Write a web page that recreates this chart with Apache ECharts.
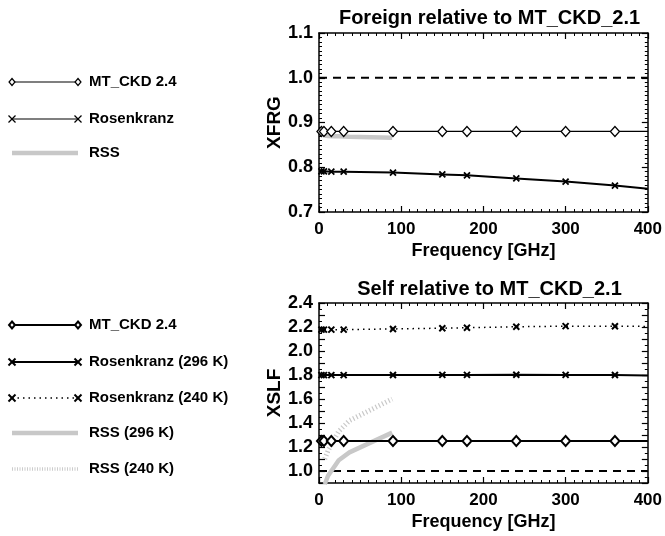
<!DOCTYPE html>
<html>
<head>
<meta charset="utf-8">
<script src="https://cdn.jsdelivr.net/npm/echarts@6/dist/echarts.min.js"></script>
<style>
html,body{margin:0;padding:0;background:#fff;}
#c{width:665px;height:536px;}
</style>
</head>
<body>
<div id="c"></div>
<script>
// ---- data ----
const freq = [0, 3, 6, 15, 30, 90, 150, 180, 240, 300, 360, 400];
const frgMtckd = [0.88, 0.88, 0.88, 0.88, 0.88, 0.88, 0.88, 0.88, 0.88, 0.88, 0.88, 0.88];
const frgRosen = [0.791, 0.791, 0.791, 0.790, 0.790, 0.788, 0.784, 0.782, 0.775, 0.768, 0.759, 0.752];
const rssFreq = [7, 11, 19, 24, 37, 89];
const frgRss = [0.871, 0.870, 0.869, 0.869, 0.868, 0.866];
const slfMtckd = [1.25, 1.25, 1.25, 1.25, 1.25, 1.25, 1.25, 1.25, 1.25, 1.25, 1.25, 1.25];
const slfRosen296 = [1.799, 1.799, 1.799, 1.799, 1.799, 1.800, 1.801, 1.801, 1.802, 1.801, 1.800, 1.795];
const slfRosen240 = [2.178, 2.178, 2.178, 2.178, 2.178, 2.184, 2.190, 2.194, 2.202, 2.207, 2.206, 2.205];
const slfRss296 = [0.89, 0.96, 1.04, 1.09, 1.155, 1.32];
const slfRss240 = [1.10, 1.17, 1.27, 1.33, 1.42, 1.60];
const refX = [0, 400];
const refY = [1.0, 1.0];
const titles = ['Foreign relative to MT_CKD_2.1', 'Self relative to MT_CKD_2.1'];
const yNames = ['XFRG', 'XSLF'];
const xName = 'Frequency [GHz]';
const legendTop = ['MT_CKD 2.4', 'Rosenkranz', 'RSS'];
const legendBottom = ['MT_CKD 2.4', 'Rosenkranz (296 K)', 'Rosenkranz (240 K)', 'RSS (296 K)', 'RSS (240 K)'];

const FONT = '"Liberation Sans", Arial, Helvetica, sans-serif';
const zip = (xs, ys) => xs.map((x, i) => [x, ys[i]]);
const XPATH = 'path://M0 0L10 10M10 0L0 10';
const lastIdx = freq.length - 1;
const markerFn = (sym) => (v, p) => (p.dataIndex === 0 || p.dataIndex === lastIdx) ? 'none' : sym;

const gridsPos = [
  {left: 319, top: 33, width: 331, height: 179},
  {left: 319, top: 303, width: 331, height: 180}
];

function xAxes(gi) {
  const base = {
    type: 'value', gridIndex: gi, min: 0, max: 400, interval: 100,
    axisLine: {show: true, onZero: false, lineStyle: {color: '#000', width: 1.5}},
    axisTick: {show: true, inside: true, length: 6, lineStyle: {color: '#000', width: 1.2}},
    minorTick: {show: true, splitNumber: 10, length: 3, lineStyle: {color: '#000', width: 1}},
    splitLine: {show: false}, minorSplitLine: {show: false}
  };
  return [
    Object.assign({}, base, {
      position: 'bottom',
      axisLabel: {show: true, margin: 9, color: '#000', fontFamily: FONT, fontWeight: 'bold', fontSize: 17},
      name: xName, nameLocation: 'middle', nameGap: 30,
      nameTextStyle: {color: '#000', fontFamily: FONT, fontWeight: 'bold', fontSize: 18}
    }),
    Object.assign({}, base, {position: 'top', axisLabel: {show: false}})
  ];
}

function yAxes(gi, min, max, interval, minorSplit, fmt) {
  const base = {
    type: 'value', gridIndex: gi, min: min, max: max, interval: interval,
    axisLine: {show: true, onZero: false, lineStyle: {color: '#000', width: 1.5}},
    axisTick: {show: true, inside: true, length: 6, lineStyle: {color: '#000', width: 1.2}},
    minorTick: {show: true, splitNumber: minorSplit, length: 3, lineStyle: {color: '#000', width: 1}},
    splitLine: {show: false}, minorSplitLine: {show: false}
  };
  return [
    Object.assign({}, base, {
      position: 'left',
      axisLabel: {show: true, margin: 6, color: '#000', fontFamily: FONT, fontWeight: 'bold', fontSize: 18, formatter: fmt},
      name: yNames[gi], nameLocation: 'middle', nameGap: 35, nameRotate: 90,
      nameTextStyle: {color: '#000', fontFamily: FONT, fontWeight: 'bold', fontSize: 19}
    }),
    Object.assign({}, base, {position: 'right', axisLabel: {show: false}})
  ];
}

const fmtTop = v => v.toFixed(1);
const fmtBottom = v => (Math.round(v * 10) % 2 === 0) ? v.toFixed(1) : '';

const series = [
  // ---- top panel ----
  {type: 'line', xAxisIndex: 0, yAxisIndex: 0, data: zip(refX, refY), symbol: 'none', z: 2,
   lineStyle: {color: '#000', width: 2, type: [8, 6]}},
  {type: 'line', xAxisIndex: 0, yAxisIndex: 0, data: zip(rssFreq, frgRss), symbol: 'none', z: 3,
   lineStyle: {color: '#c8c8c8', width: 4.5}},
  {type: 'line', xAxisIndex: 0, yAxisIndex: 0, data: zip(freq, frgMtckd), z: 4,
   symbol: markerFn('diamond'), symbolSize: [9, 10],
   lineStyle: {color: '#000', width: 1.2}, itemStyle: {color: '#fff', borderColor: '#000', borderWidth: 1.3}},
  {type: 'line', xAxisIndex: 0, yAxisIndex: 0, data: zip(freq, frgRosen), z: 4,
   symbol: markerFn(XPATH), symbolSize: 6,
   lineStyle: {color: '#000', width: 2}, itemStyle: {color: '#000', borderColor: '#000', borderWidth: 1.8}},
  // ---- bottom panel ----
  {type: 'line', xAxisIndex: 2, yAxisIndex: 2, data: zip(refX, refY), symbol: 'none', z: 2,
   lineStyle: {color: '#000', width: 2, type: [8, 6]}},
  {type: 'line', xAxisIndex: 2, yAxisIndex: 2, data: zip(rssFreq, slfRss296), symbol: 'none', z: 3,
   lineStyle: {color: '#c8c8c8', width: 4.5}},
  {type: 'line', xAxisIndex: 2, yAxisIndex: 2, data: zip(rssFreq, slfRss240), symbol: 'none', z: 3,
   lineStyle: {color: '#c8c8c8', width: 5, type: [1.2, 2.4]}},
  {type: 'line', xAxisIndex: 2, yAxisIndex: 2, data: zip(freq, slfMtckd), z: 4,
   symbol: markerFn('diamond'), symbolSize: [9, 10],
   lineStyle: {color: '#000', width: 2}, itemStyle: {color: '#fff', borderColor: '#000', borderWidth: 2}},
  {type: 'line', xAxisIndex: 2, yAxisIndex: 2, data: zip(freq, slfRosen296), z: 4,
   symbol: markerFn(XPATH), symbolSize: 6,
   lineStyle: {color: '#000', width: 2}, itemStyle: {color: '#000', borderColor: '#000', borderWidth: 2}},
  {type: 'line', xAxisIndex: 2, yAxisIndex: 2, data: zip(freq, slfRosen240), z: 4,
   symbol: markerFn(XPATH), symbolSize: 6,
   lineStyle: {color: '#000', width: 1.5, type: [1.5, 4]}, itemStyle: {color: '#000', borderColor: '#000', borderWidth: 2}}
];

// ---- legend drawn as graphic decoration ----
function diamond(x, y, s, lw) {
  return {type: 'polygon', shape: {points: [[x, y - s], [x + s * 0.85, y], [x, y + s], [x - s * 0.85, y]]},
          style: {fill: '#fff', stroke: '#000', lineWidth: lw}, z: 10};
}
function cross(x, y, s, lw) {
  return [
    {type: 'line', shape: {x1: x - s, y1: y - s, x2: x + s, y2: y + s}, style: {stroke: '#000', lineWidth: lw}, z: 10},
    {type: 'line', shape: {x1: x - s, y1: y + s, x2: x + s, y2: y - s}, style: {stroke: '#000', lineWidth: lw}, z: 10}
  ];
}
function legendItem(y, text, kind) {
  const x1 = 12, x2 = 78;
  const els = [];
  let ls;
  if (kind.line === 'gray') ls = {stroke: '#c8c8c8', lineWidth: 4.5};
  else if (kind.line === 'grayDot') ls = {stroke: '#cccccc', lineWidth: 3.5, lineDash: [1, 1.5]};
  else if (kind.line === 'dot') ls = {stroke: '#000', lineWidth: 1.5, lineDash: [1.5, 4]};
  else ls = {stroke: '#000', lineWidth: kind.lw || 1.2};
  els.push({type: 'line', shape: {x1: x1, y1: y, x2: x2, y2: y}, style: ls, z: 9});
  if (kind.mark === 'diamond') {
    els.push(diamond(x1, y, 3.5, kind.mlw || 1.2), diamond(x2, y, 3.5, kind.mlw || 1.2));
  } else if (kind.mark === 'x') {
    els.push(...cross(x1, y, 3.5, kind.mlw || 1.2), ...cross(x2, y, 3.5, kind.mlw || 1.2));
  }
  els.push({type: 'text', x: 89, y: y, z: 10,
            style: {text: text, fill: '#000', font: 'bold 15px ' + FONT, verticalAlign: 'middle', align: 'left'}});
  return els;
}
const graphic = [].concat(
  legendItem(82, legendTop[0], {mark: 'diamond'}),
  legendItem(119, legendTop[1], {mark: 'x'}),
  legendItem(153, legendTop[2], {line: 'gray'}),
  legendItem(325, legendBottom[0], {mark: 'diamond', lw: 2, mlw: 2}),
  legendItem(362, legendBottom[1], {mark: 'x', lw: 2, mlw: 2}),
  legendItem(398, legendBottom[2], {mark: 'x', line: 'dot', mlw: 2}),
  legendItem(433, legendBottom[3], {line: 'gray'}),
  legendItem(469, legendBottom[4], {line: 'grayDot'})
);

const option = {
  animation: false,
  backgroundColor: '#fff',
  title: [
    {text: titles[0], left: 484.5, top: 3, textAlign: 'center',
     textStyle: {color: '#000', fontFamily: FONT, fontWeight: 'bold', fontSize: 20}},
    {text: titles[1], left: 484.5, top: 274, textAlign: 'center',
     textStyle: {color: '#000', fontFamily: FONT, fontWeight: 'bold', fontSize: 20}}
  ],
  grid: gridsPos.map(g => Object.assign({containLabel: false, show: false}, g)),
  xAxis: [].concat(xAxes(0), xAxes(1)),
  yAxis: [].concat(yAxes(0, 0.7, 1.1, 0.1, 10, fmtTop), yAxes(1, 0.9, 2.4, 0.1, 2, fmtBottom)),
  series: series,
  graphic: graphic
};
const chart = echarts.init(document.getElementById('c'), null, {renderer: 'canvas'});
chart.setOption(option);
</script>
</body>
</html>
